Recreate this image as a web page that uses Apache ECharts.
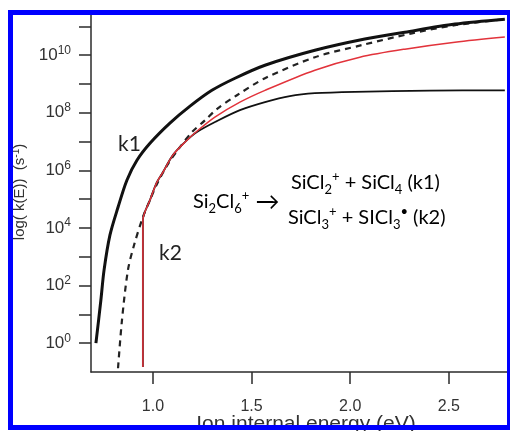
<!DOCTYPE html>
<html>
<head>
<meta charset="utf-8">
<script src="https://cdn.jsdelivr.net/npm/echarts@6/dist/echarts.min.js"></script>
<style>
  html, body { margin: 0; padding: 0; background: #fff; }
  #chart { width: 510px; height: 431px; }
</style>
</head>
<body>
<div id="chart"></div>
<script>
// Values: energy (eV) and log10 k(E) (s^-1)
const k1E   = [0.711, 0.736, 0.752, 0.782, 0.823, 0.868, 0.919, 0.985, 1.086, 1.188, 1.299, 1.416, 1.568, 1.821, 2.074, 2.277, 2.531, 2.784];
const k1Log = [0.0, 1.49, 2.53, 3.75, 4.72, 5.66, 6.35, 6.94, 7.64, 8.23, 8.78, 9.20, 9.65, 10.17, 10.56, 10.80, 11.08, 11.25];

const dashE   = [0.823, 0.843, 0.873, 0.904, 0.949, 0.985, 1.020, 1.076, 1.137, 1.198, 1.264, 1.324, 1.426, 1.568, 1.821, 2.059, 2.313, 2.531, 2.784];
const dashLog = [-0.87, 0.80, 2.53, 3.40, 4.375, 4.97, 5.52, 6.22, 6.81, 7.33, 7.74, 8.13, 8.61, 9.20, 9.93, 10.35, 10.76, 11.04, 11.25];

const redE   = [0.949, 0.949, 0.985, 1.020, 1.051, 1.101, 1.162, 1.223, 1.314, 1.441, 1.568, 1.821, 2.049, 2.277, 2.531, 2.784];
const redLog = [-0.83, 4.27, 4.97, 5.59, 5.94, 6.53, 6.98, 7.36, 7.85, 8.37, 8.78, 9.48, 9.93, 10.21, 10.45, 10.63];

const k2E   = [0.949, 0.949, 0.985, 1.020, 1.051, 1.101, 1.162, 1.223, 1.324, 1.441, 1.568, 1.694, 1.821, 2.024, 2.404, 2.784];
const k2Log = [-0.83, 4.27, 4.97, 5.59, 5.94, 6.53, 6.98, 7.33, 7.71, 8.09, 8.37, 8.58, 8.68, 8.73, 8.77, 8.78];

const xTicks = [1.0, 1.5, 2.0, 2.5];
const yTicks = [0, 1, 2, 3, 4, 5, 6, 7, 8, 9, 10, 11];
const yLabels = [0, 2, 4, 6, 8, 10];

const pairs = (xs, ys) => xs.map((x, i) => [x, ys[i]]);

const ink = '#2b2b2b';
const sans = '"Liberation Sans", Arial, sans-serif';
const calib = 'Lato, "Open Sans", sans-serif';

const chem = {
  n:   { fontFamily: calib, fontSize: 20, color: '#222', lineHeight: 26 },
  ar:  { fontFamily: calib, fontSize: 24, color: '#222', lineHeight: 26 },
  sub: { fontFamily: calib, fontSize: 13, color: '#222', lineHeight: 15, verticalAlign: 'bottom' },
  sup: { fontFamily: calib, fontSize: 13, color: '#222', lineHeight: 15, verticalAlign: 'top' },
};

const chart = echarts.init(document.getElementById('chart'), null, { renderer: 'canvas' });

chart.setOption({
  animation: false,
  backgroundColor: '#fff',
  grid: { left: 91, right: 2, top: 12, bottom: 59, outerBoundsMode: 'none' },
  xAxis: {
    type: 'value',
    min: 0.686,
    max: 2.8,
    axisLine: { onZero: false, lineStyle: { color: ink, width: 1.5 } },
    axisTick: { customValues: xTicks, length: 12, lineStyle: { color: ink, width: 1.5 } },
    axisLabel: {
      customValues: xTicks, margin: 27, fontFamily: sans, fontSize: 16, color: '#333',
      formatter: (v) => v.toFixed(1),
    },
    splitLine: { show: false },
  },
  yAxis: {
    type: 'value',
    min: -1,
    max: 11.5,
    name: '{a|log( k(E))  (s}{s|-1}{a|)}',
    nameLocation: 'middle',
    nameGap: 62,
    nameRotate: 90,
    nameTextStyle: {
      rich: {
        a: { fontFamily: sans, fontSize: 15, color: '#333', lineHeight: 18 },
        s: { fontFamily: sans, fontSize: 10, color: '#333', lineHeight: 11, verticalAlign: 'top' },
      },
    },
    axisLine: { show: true, onZero: false, lineStyle: { color: ink, width: 1.5 } },
    axisTick: { show: true, customValues: yTicks, length: 12, lineStyle: { color: ink, width: 1.5 } },
    axisLabel: {
      customValues: yLabels, margin: 20,
      formatter: (v) => '{b|10}{s|' + v + '}',
      rich: {
        b: { fontFamily: sans, fontSize: 17, color: '#333', lineHeight: 22 },
        s: { fontFamily: sans, fontSize: 12, color: '#333', lineHeight: 12, verticalAlign: 'top' },
      },
    },
    splitLine: { show: false },
  },
  series: [
    {
      name: 'k2 thin', type: 'line', data: pairs(k2E, k2Log), showSymbol: false, smooth: 0.3,
      lineStyle: { color: '#111', width: 1.8 },
    },
    {
      name: 'dashed', type: 'line', data: pairs(dashE, dashLog), showSymbol: false, smooth: 0.3,
      lineStyle: { color: '#222', width: 2.2, type: [6, 5] },
    },
    {
      name: 'red', type: 'line', data: pairs(redE, redLog), showSymbol: false, smooth: 0.3,
      lineStyle: { color: '#e2333b', width: 1.5 },
    },
    {
      name: 'k1', type: 'line', data: pairs(k1E, k1Log), showSymbol: false, smooth: 0.3,
      lineStyle: { color: '#111', width: 3 },
    },
  ],
  graphic: [
    {
      type: 'text', x: 306, y: 424,
      style: { text: 'Ion internal energy (eV)', font: '21px ' + sans, fill: '#333', align: 'center', verticalAlign: 'middle' },
    },
    { type: 'text', left: 118, top: 134, style: { text: 'k1', font: '21px ' + calib, fill: '#222' } },
    { type: 'text', left: 159, top: 243, style: { text: 'k2', font: '21px ' + calib, fill: '#222' } },
    { type: 'text', left: 193, top: 189, style: { text: '{n|Si}{sub|2}{n|Cl}{sub|6}{sup|+}{ar| →}', rich: chem } },
    { type: 'text', left: 291, top: 170, style: { text: '{n|SiCl}{sub|2}{sup|+}{n| + SiCl}{sub|4}{n| (k1)}', rich: chem } },
    { type: 'text', left: 288, top: 205, style: { text: '{n|SiCl}{sub|3}{sup|+}{n| + SICl}{sub|3}{sup|•}{n| (k2)}', rich: chem } },
    {
      type: 'rect', z: 100, silent: true,
      shape: { x: 10.5, y: 12.5, width: 499, height: 415 },
      style: { fill: 'none', stroke: '#0000ff', lineWidth: 5 },
    },
  ],
});
</script>
</body>
</html>
